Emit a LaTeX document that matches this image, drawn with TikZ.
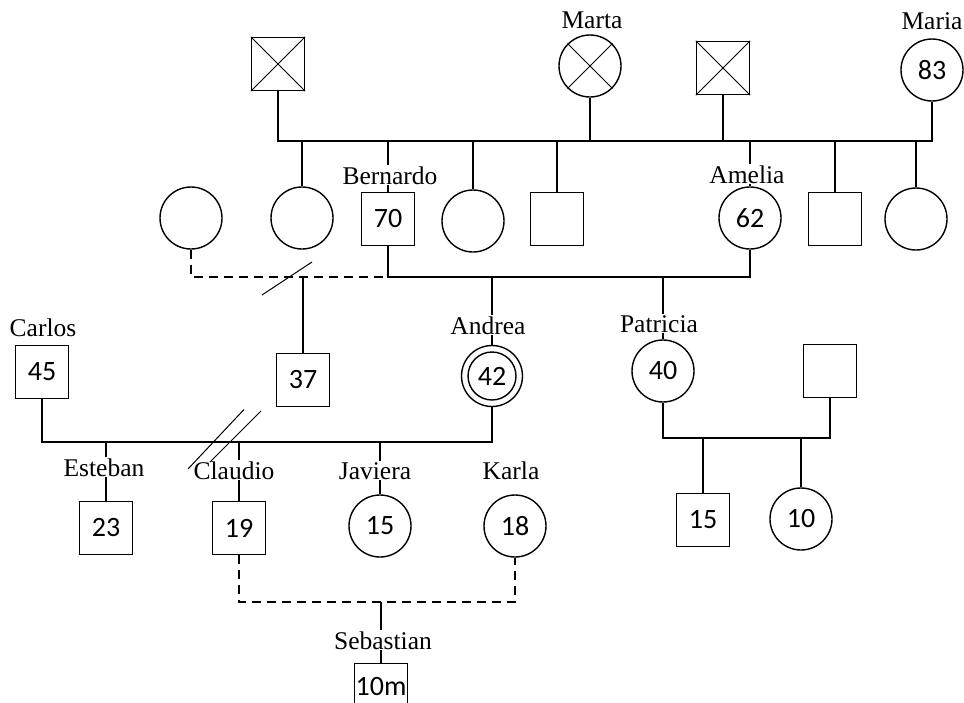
\documentclass[tikz,border=0pt]{standalone}
\usepackage{fontspec}
\setmainfont{Liberation Serif}
\newfontfamily\numfont{Carlito}
\begin{document}
\begin{tikzpicture}[x=1pt,y=-1pt,line width=1.4pt,
  sq/.style={draw,rectangle,minimum size=53pt,inner sep=0pt,font=\numfont\fontsize{28}{28}\selectfont},
  ci/.style={draw,circle,minimum size=62pt,inner sep=0pt,font=\numfont\fontsize{28}{28}\selectfont},
  lbl/.style={fill=white,inner sep=1.2pt,anchor=base,font=\fontsize{25.5}{25.5}\selectfont},
  dsh/.style={dash pattern=on 9pt off 6pt},
  thin mark/.style={line width=1pt}]
\useasboundingbox (0,0) rectangle (964,702);
\clip (0,0) rectangle (964,702);
% generation I
\node[sq] (x1) at (278,64) {};
\node[ci] (marta) at (590,66) {};
\node[sq] (x2) at (723,68) {};
\node[ci] (maria) at (932,70) {83};
\draw[thin mark] (x1.north west) -- (x1.south east) (x1.north east) -- (x1.south west);
\draw[thin mark] (x2.north west) -- (x2.south east) (x2.north east) -- (x2.south west);
\draw[thin mark] (marta.north west) -- (marta.south east) (marta.north east) -- (marta.south west);
% generation II
\node[ci] (c1) at (191,218) {};
\node[ci] (c2) at (302,218) {};
\node[sq] (bern) at (388,219) {70};
\node[ci] (c3) at (473,221) {};
\node[sq] (s4) at (557,219) {};
\node[ci] (amelia) at (750,218) {62};
\node[sq] (s6) at (835,219) {};
\node[ci] (c7) at (916,219) {};
% generation III
\node[sq] (carlos) at (42,372) {45};
\node[sq] (s37) at (303,380) {37};
\node[ci,minimum size=61pt] (andrea) at (492,376) {42};
\draw (andrea) circle [radius=24pt];
\node[ci] (patricia) at (663,371) {40};
\node[sq] (pspouse) at (830,371) {};
% generation IV
\node[sq] (esteban) at (106,528) {23};
\node[sq] (claudio) at (239,528) {19};
\node[ci] (javiera) at (380,526) {15};
\node[ci] (karla) at (515,526) {18};
\node[sq] (p15) at (703,520) {15};
\node[ci] (p10) at (801,519) {10};
% generation V
\node[sq,text depth=8pt] (sebastian) at (381,690) {10m};

% coordinates of the lines
\coordinate (t1) at (0,141);
\coordinate (m1) at (0,277);
\coordinate (m2) at (0,442);
\coordinate (m3) at (0,438);
\coordinate (m4) at (0,602);

% top sibship line
\draw (x1.south) -- (x1.south |- t1) -- (maria.south |- t1) -- (maria.south);
\draw (marta) -- (marta |- t1);
\draw (x2) -- (x2 |- t1);
\foreach \n in {c2,bern,c3,s4,amelia,s6,c7} \draw (\n |- t1) -- (\n);

% Bernardo - Amelia
\draw (bern) -- (bern |- m1) -- (amelia |- m1) -- (amelia);
\draw[dsh] (c1) -- (c1 |- m1) -- (bern |- m1);
\draw (s37 |- m1) -- (s37);
\draw (andrea |- m1) -- (andrea);
\draw (patricia |- m1) -- (patricia);

% Carlos - Andrea
\draw (carlos) -- (carlos |- m2) -- (andrea |- m2) -- (andrea);
\foreach \n in {esteban,claudio,javiera} \draw (\n |- m2) -- (\n);

% Patricia - spouse
\draw (patricia) -- (patricia |- m3) -- (pspouse |- m3) -- (pspouse);
\draw (p15 |- m3) -- (p15);
\draw (p10 |- m3) -- (p10);

% Claudio - Karla
\draw[dsh] (claudio) -- (claudio |- m4) -- (karla |- m4) -- (karla);
\draw (sebastian |- m4) -- (sebastian);

% labels
\node[lbl] (lmarta) at (592,28) {Marta};
\node[lbl] (lmaria) at (932,29) {Maria};
\node[lbl] (lbern) at (390,184) {Bernardo};
\node[lbl] (lamelia) at (747,183) {Amelia};
\node[lbl] (lcarlos) at (43,336) {Carlos};
\node[lbl] (landrea) at (488,334) {Andrea};
\node[lbl] (lpatricia) at (659,332) {Patricia};
\node[lbl] (lesteban) at (104,476) {Esteban};
\node[lbl] (lclaudio) at (234,479) {Claudio};
\node[lbl] (ljaviera) at (375,479) {Javiera};
\node[lbl] (lkarla) at (511,479) {Karla};
\node[lbl] (lsebastian) at (383,649) {Sebastian};

% separation marks
\draw[thin mark] (262,295) -- (312,262);
\draw[thin mark] (188,469) -- (244,409.5);
\draw[thin mark] (210,462) -- (261,411);
\end{tikzpicture}
\end{document}
